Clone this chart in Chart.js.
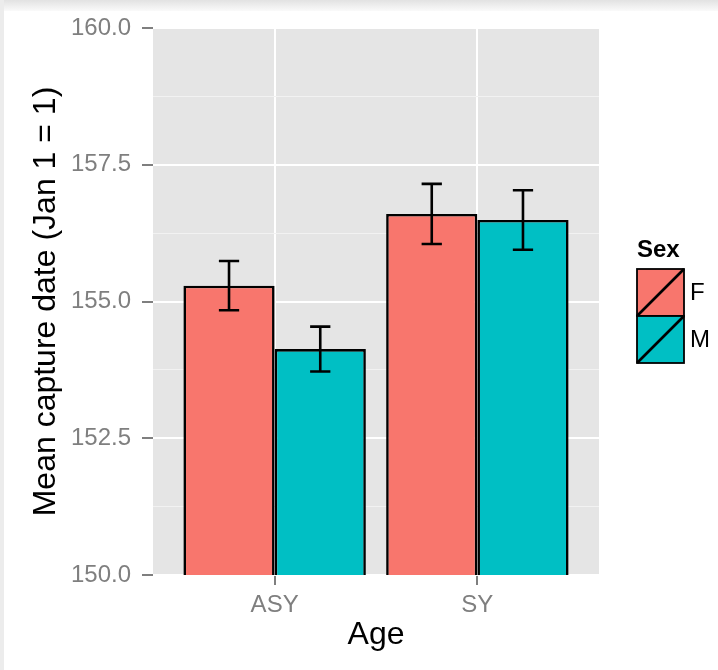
<!DOCTYPE html>
<html>
<head>
<meta charset="utf-8">
<script src="https://cdn.jsdelivr.net/npm/chart.js@4"></script>
<style>
  html, body { margin: 0; padding: 0; background: #fff; }
  canvas { display: block; }
</style>
</head>
<body>
<canvas id="captureChart" width="718" height="670"></canvas>
<script>
// data
const ages = ['ASY', 'SY'];
const sexes = ['F', 'M'];
const meanF = [155.29, 156.60];
const meanM = [154.13, 156.49];
const errF = [0.45, 0.55];
const errM = [0.41, 0.545];
const yMajor = [150, 152.5, 155, 157.5, 160];
const yMinor = [151.25, 153.75, 156.25, 158.75];

const colors = ['#F8766D', '#00BFC4'];
const means = [meanF, meanM];
const errs = [errF, errM];
const font = "'Liberation Sans', Arial, Helvetica, sans-serif";

// grey photo edge + panel background
const backdrop = {
    id: 'backdrop',
    beforeDraw(chart) {
        const ctx = chart.ctx;
        const a = chart.chartArea;
        ctx.save();
        const g = ctx.createLinearGradient(0, 0, 0, 11);
        g.addColorStop(0, '#e2e2e2');
        g.addColorStop(1, '#fafafa');
        ctx.fillStyle = g;
        ctx.fillRect(0, 0, chart.width, 11);
        ctx.fillStyle = '#ececec';
        ctx.fillRect(0, 0, 4, chart.height);
        ctx.fillStyle = '#E5E5E5';
        ctx.fillRect(a.left, a.top, a.right - a.left, a.bottom - a.top);
        ctx.restore();
    }
};

// error bars drawn on top of the bars
const errorBars = {
    id: 'errorBars',
    afterDatasetsDraw(chart) {
        const ctx = chart.ctx;
        const xs = chart.scales.x;
        const ys = chart.scales.y;
        const half = xs.getPixelForValue(1.05) - xs.getPixelForValue(1);
        ctx.save();
        ctx.strokeStyle = '#000';
        ctx.lineWidth = 2.6;
        chart.data.datasets.forEach((ds, di) => {
            const meta = chart.getDatasetMeta(di);
            meta.data.forEach((bar, i) => {
                const hi = ys.getPixelForValue(means[di][i] + errs[di][i]);
                const lo = ys.getPixelForValue(means[di][i] - errs[di][i]);
                ctx.beginPath();
                ctx.moveTo(bar.x, hi); ctx.lineTo(bar.x, lo);
                ctx.moveTo(bar.x - half, hi); ctx.lineTo(bar.x + half, hi);
                ctx.moveTo(bar.x - half, lo); ctx.lineTo(bar.x + half, lo);
                ctx.stroke();
            });
        });
        ctx.restore();
    }
};

// ggplot style legend with the slashed keys
const sexLegend = {
    id: 'sexLegend',
    afterDraw(chart) {
        const ctx = chart.ctx;
        const x = 637, top = 269, size = 47;
        ctx.save();
        ctx.textBaseline = 'middle';
        ctx.textAlign = 'left';
        ctx.fillStyle = '#000';
        ctx.font = 'bold 24px ' + font;
        ctx.fillText('Sex', x, 250);
        chart.data.datasets.forEach((ds, i) => {
            const y = top + i * size;
            ctx.fillStyle = ds.backgroundColor;
            ctx.fillRect(x, y, size, size);
            ctx.strokeStyle = '#000';
            ctx.lineWidth = 1.8;
            ctx.strokeRect(x, y, size, size);
            ctx.lineWidth = 2.6;
            ctx.beginPath();
            ctx.moveTo(x, y + size);
            ctx.lineTo(x + size, y);
            ctx.stroke();
            ctx.fillStyle = '#000';
            ctx.font = '24px ' + font;
            ctx.fillText(ds.label, x + size + 6, y + size / 2 + 1);
        });
        ctx.restore();
    }
};

const ctx = document.getElementById('captureChart').getContext('2d');
new Chart(ctx, {
    type: 'bar',
    data: {
        datasets: sexes.map((s, i) => ({
            label: s,
            data: ages.map((a, j) => ({ x: j + 1, y: means[i][j] })),
            backgroundColor: colors[i],
            borderColor: '#000',
            borderWidth: 2.6,
            categoryPercentage: 0.9,
            barPercentage: 1
        }))
    },
    options: {
        responsive: false,
        devicePixelRatio: 1,
        animation: false,
        layout: { padding: { left: 0, right: 119, top: 28, bottom: 0 } },
        plugins: {
            legend: { display: false },
            tooltip: { enabled: false }
        },
        scales: {
            x: {
                type: 'linear',
                min: 0.4,
                max: 2.6,
                offset: false,
                afterBuildTicks: axis => { axis.ticks = ages.map((a, i) => ({ value: i + 1 })); },
                afterFit: axis => { axis.height = 95; },
                ticks: {
                    callback: v => ages[v - 1],
                    color: '#7F7F7F',
                    font: { family: font, size: 24 },
                    padding: 6,
                    maxRotation: 0
                },
                grid: {
                    offset: false,
                    color: '#FFFFFF',
                    lineWidth: 2,
                    tickColor: '#7F7F7F',
                    tickWidth: 2,
                    tickLength: 10
                },
                border: { display: false },
                title: {
                    display: true,
                    text: 'Age',
                    color: '#000',
                    font: { family: font, size: 32 },
                    padding: { top: 0, bottom: 16 }
                }
            },
            y: {
                min: 150,
                max: 160,
                afterBuildTicks: axis => {
                    axis.ticks = yMajor.concat(yMinor).sort((a, b) => a - b).map(v => ({ value: v }));
                },
                afterFit: axis => { axis.width = 153; },
                ticks: {
                    callback: v => yMajor.includes(v) ? v.toFixed(1) : '',
                    color: '#7F7F7F',
                    font: { family: font, size: 24 },
                    padding: 11
                },
                grid: {
                    color: c => yMajor.includes(c.tick.value) ? '#FFFFFF' : '#F2F2F2',
                    lineWidth: c => yMajor.includes(c.tick.value) ? 2 : 1,
                    tickColor: c => yMajor.includes(c.tick.value) ? '#7F7F7F' : 'rgba(0,0,0,0)',
                    tickWidth: 2,
                    tickLength: 11
                },
                border: { display: false },
                title: {
                    display: true,
                    text: 'Mean capture date (Jan 1 = 1)',
                    color: '#000',
                    font: { family: font, size: 32 },
                    padding: { top: 27, bottom: 0 }
                }
            }
        }
    },
    plugins: [backdrop, errorBars, sexLegend]
});
</script>
</body>
</html>
